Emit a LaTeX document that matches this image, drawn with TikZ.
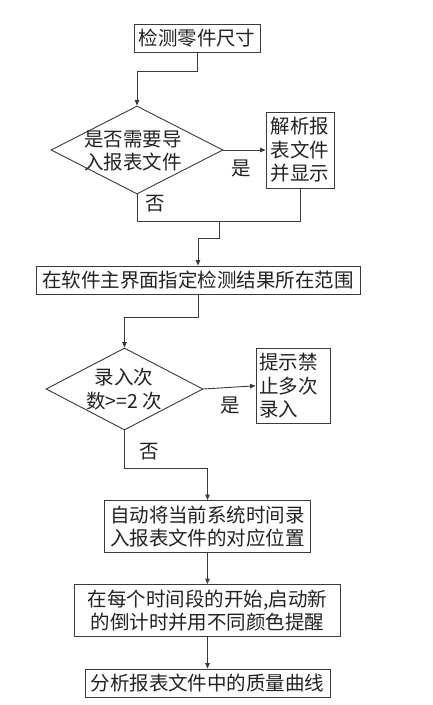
\documentclass[tikz,border=0pt]{standalone}
\usepackage{fontspec}
\setmainfont{Noto Sans CJK SC}
\usetikzlibrary{shapes.geometric,arrows.meta}
\definecolor{linec}{HTML}{3A3A3A}
\definecolor{txtc}{HTML}{222222}
\newcommand\myfs{\fontsize{19.5}{23.5}\selectfont}
\begin{document}
\begin{tikzpicture}[x=1pt,y=-1pt,
  box/.style={draw=linec, line width=0.9pt, inner sep=0pt, font=\myfs, align=center, text=txtc},
  dia/.style={draw=linec, line width=0.9pt, diamond, inner sep=0pt},
  lbl/.style={font=\myfs, text=txtc, inner sep=0pt, align=center},
  conn/.style={draw=linec, line width=0.9pt},
  arr/.style={conn, -{Triangle[length=5.5pt,width=4.5pt]}}]
\useasboundingbox[fill=white] (0,0) rectangle (433,705);

\node[box, minimum width=126pt, minimum height=28pt] (b1) at (197,38) {检测零件尺寸};
\node[dia, minimum width=172pt, minimum height=88pt] (d1) at (137,150) {};
\node[lbl] (t1) at (133,151) {是否需要导\\入报表文件};
\node[box, minimum width=68pt, minimum height=76pt] (b2) at (300,150) {解析报\\表文件\\并显示};
\node[box, minimum width=324pt, minimum height=28pt] (b3) at (198,280) {在软件主界面指定检测结果所在范围};
\node[dia, minimum width=157pt, minimum height=82pt] (d2) at (124.5,389) {};
\node[lbl] (t2) at (124,389) {录入次\\数>=2 次};
\node[box, minimum width=74pt, minimum height=75pt, align=left, text width=68pt] (b4) at (293,385.8) {提示禁\\止多次\\录入};
\node[box, minimum width=206pt, minimum height=52pt] (b5) at (207.5,526.5) {自动将当前系统时间录\\入报表文件的对应位置};
\node[box, minimum width=266pt, minimum height=52pt] (b6) at (207.5,610.5) {在每个时间段的开始,启动新\\的倒计时并用不同颜色提醒};
\node[box, minimum width=245pt, minimum height=28pt] (b7) at (207.5,683) {分析报表文件中的质量曲线};

\node[lbl] (y1) at (241,168) {是};
\node[lbl] (n1) at (155,204) {否};
\node[lbl] (y2) at (230,405) {是};
\node[lbl] (n2) at (149,452) {否};

\coordinate (j1) at (0,71);
\coordinate (j2) at (0,221);
\coordinate (m1) at (219,221);
\coordinate (m2) at (0,238);
\coordinate (j3) at (0,317);
\coordinate (j4) at (0,468);

\draw[arr] (b1.south) -- (b1.south |- j1) -| (d1.north);
\draw[arr] (d1.east) -- (b2.west);
\draw[conn] (d1.south) -- (d1.south |- j2) -- (b2.south |- j2) -- (b2.south);
\draw[arr] (m1) -- (m1 |- m2) -| (b3.north);
\draw[arr] (b3.south) -- (b3.south |- j3) -| (d2.north);
\draw[arr] (d2.east) -- (b4.west);
\draw[arr] (d2.south) -- (d2.south |- j4) -| (b5.north);
\draw[arr] (b5.south) -- (b6.north);
\draw[arr] (b6.south) -- (b7.north);
\end{tikzpicture}
\end{document}
